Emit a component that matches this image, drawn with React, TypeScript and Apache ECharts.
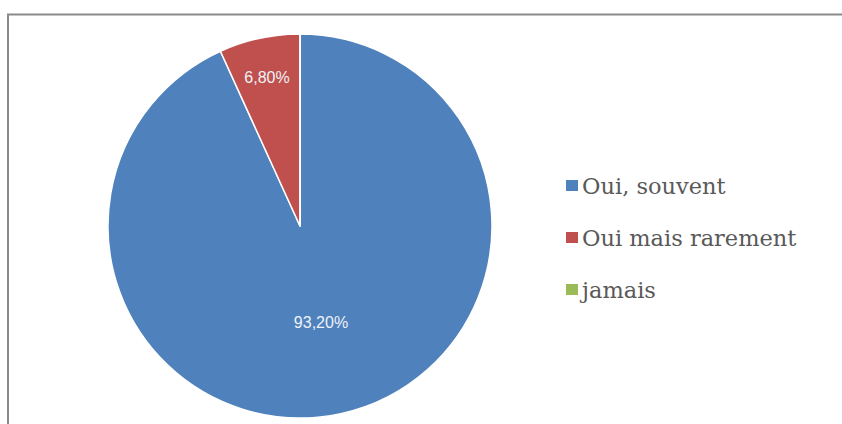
import React, { useEffect, useRef } from "react";
import * as echarts from "echarts";

const categories = ["Oui, souvent", "Oui mais rarement", "jamais"];
const values = [93.2, 6.8, 0];
const colors = ["#4F81BD", "#C0504D", "#9BBB59"];

export default function App() {
  const ref = useRef<HTMLDivElement>(null);
  useEffect(() => {
    if (!ref.current) return;
    const chart = echarts.init(ref.current, null, { renderer: "svg" });
    const fmt = (v: number) => v.toFixed(2).replace(".", ",") + "%";
    chart.setOption({
      animation: false,
      color: colors,
      graphic: [
        { type: "line", shape: { x1: 7, y1: 14.5, x2: 842, y2: 14.5 }, style: { stroke: "#8a8a8a", lineWidth: 2 } },
        { type: "line", shape: { x1: 8, y1: 14, x2: 8, y2: 424 }, style: { stroke: "#8a8a8a", lineWidth: 2 } },
      ],
      legend: {
        orient: "vertical",
        left: 561,
        top: 169,
        itemWidth: 12,
        itemHeight: 11,
        itemGap: 29,
        icon: "rect",
        itemStyle: { borderWidth: 0 },
        data: categories,
        textStyle: { fontFamily: "DejaVu Serif", fontSize: 22.5, color: "#595959", padding: [0, 0, 0, -1] },
      },
      series: [
        {
          type: "pie",
          center: [300, 226],
          radius: 192,
          startAngle: 90,
          clockwise: true,
          avoidLabelOverlap: false,
          itemStyle: { borderColor: "#fff", borderWidth: 1.5 },
          label: {
            show: true,
            position: "inside",
            color: "#eef2f8",
            fontFamily: "Liberation Sans",
            fontSize: 16,
            formatter: (p: any) => fmt(p.value),
          },
          labelLine: { show: false },
          emphasis: { disabled: true },
          data: categories.map((name, i) => {
            const item: any = { name, value: values[i] };
            if (values[i] === 0) item.label = { show: false };
            if (i === 1) item.label = { offset: [-12, -52] };
            return item;
          }),
        },
      ],
    });
    return () => chart.dispose();
  }, []);
  return <div ref={ref} style={{ position: "absolute", left: 0, top: 0, width: 842, height: 424 }} />;
}
